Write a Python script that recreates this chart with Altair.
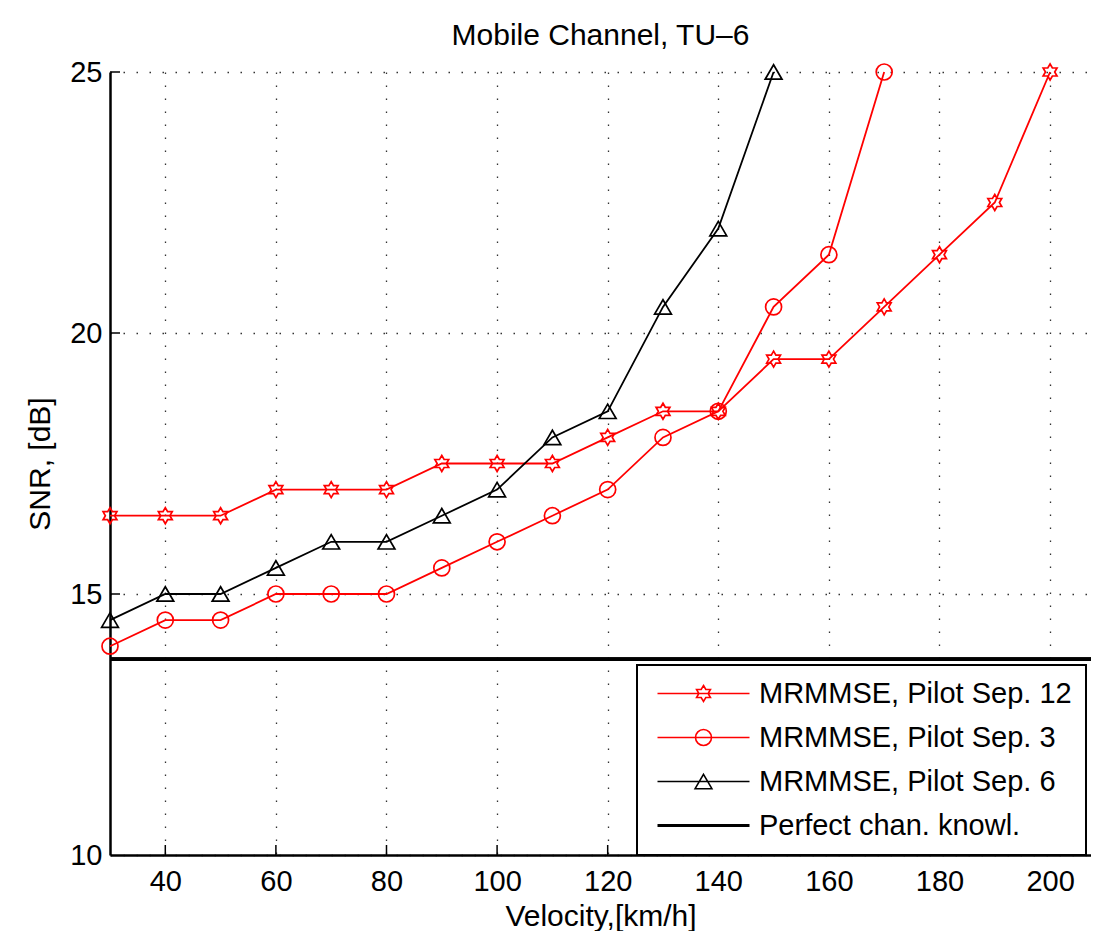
import altair as alt
import pandas as pd

# ---------------- data ----------------
series_names = ["MRMMSE, Pilot Sep. 12", "MRMMSE, Pilot Sep. 3",
                "MRMMSE, Pilot Sep. 6", "Perfect chan. knowl."]
series_colors = ["#ff0000", "#ff0000", "#000000", "#000000"]

velocity_sep12 = [30, 40, 50, 60, 70, 80, 90, 100, 110, 120, 130, 140, 150, 160, 170, 180, 190, 200]
snr_sep12 = [16.5, 16.5, 16.5, 17, 17, 17, 17.5, 17.5, 17.5, 18, 18.5, 18.5, 19.5, 19.5, 20.5, 21.5, 22.5, 25]

velocity_sep3 = [30, 40, 50, 60, 70, 80, 90, 100, 110, 120, 130, 140, 150, 160, 170]
snr_sep3 = [14, 14.5, 14.5, 15, 15, 15, 15.5, 16, 16.5, 17, 18, 18.5, 20.5, 21.5, 25]

velocity_sep6 = [30, 40, 50, 60, 70, 80, 90, 100, 110, 120, 130, 140, 150]
snr_sep6 = [14.5, 15, 15, 15.5, 16, 16, 16.5, 17, 18, 18.5, 20.5, 22, 25]

perfect_snr = 13.75

x_ticks = [40, 60, 80, 100, 120, 140, 160, 180, 200]
y_ticks = [15, 20, 25]

X_MIN, X_MAX = 30, 207.4
Y_MIN, Y_MAX = 10, 25

# ---------------- build tables ----------------
rows = []
for name, xs, ys in [(series_names[0], velocity_sep12, snr_sep12),
                     (series_names[1], velocity_sep3, snr_sep3),
                     (series_names[2], velocity_sep6, snr_sep6)]:
    for v, s in zip(xs, ys):
        rows.append({"series": name, "velocity": v, "snr": s})
df = pd.DataFrame(rows)
legend_df = pd.DataFrame({"series": series_names})
xtick_df = pd.DataFrame({"velocity": x_ticks})
ytick_df = pd.DataFrame({"snr": y_ticks})

# ---------------- marker shapes (unit space) ----------------
HEX = ("M0,-1L0.289,-0.5L0.866,-0.5L0.577,0L0.866,0.5L0.289,0.5L0,1"
       "L-0.289,0.5L-0.866,0.5L-0.577,0L-0.866,-0.5L-0.289,-0.5Z")
CIRC = "M1,0A1,1,0,1,1,-1,0A1,1,0,1,1,1,0Z"
TRI = "M0,-0.9L1.05,0.9L-1.05,0.9Z"
LINE = "M-5.75,0L5.75,0"
THICK = "M-5.75,-0.1L5.75,-0.1M-5.75,0L5.75,0M-5.75,0.1L5.75,0.1"
legend_paths = [LINE + HEX, LINE + CIRC, LINE + TRI, THICK]
marker_paths = [HEX, CIRC, TRI]

FONT = "Liberation Sans"
FS = 29
FS_TITLE = 30

color_scale = alt.Scale(domain=series_names, range=series_colors)
x_scale = alt.Scale(domain=[X_MIN, X_MAX], nice=False, zero=False)
y_scale = alt.Scale(domain=[Y_MIN, Y_MAX], nice=False, zero=False)


def make_legend():
    return alt.Legend(
        title=None,
        orient="none",
        legendX=527,
        legendY=593,
        labelFont=FONT,
        labelFontSize=FS,
        labelColor="#000000",
        labelLimit=600,
        symbolSize=256,
        symbolOffset=38,
        labelOffset=41,
        symbolStrokeWidth=1.6,
        symbolFillColor="transparent",
        symbolOpacity=1,
        padding=14,
        rowPadding=14,
        strokeColor="#000000",
        fillColor="#ffffff",
    )


x_enc = alt.X(
    "velocity:Q",
    scale=x_scale,
    axis=alt.Axis(
        title="Velocity,[km/h]",
        values=x_ticks,
        grid=True,
        ticks=False,
        labelPadding=12,
        titlePadding=5,
    ),
)
y_enc = alt.Y(
    "snr:Q",
    scale=y_scale,
    axis=alt.Axis(
        title="SNR, [dB]",
        values=[10] + y_ticks,
        grid=True,
        ticks=False,
        labelPadding=8,
        titlePadding=14,
    ),
)

# perfect channel knowledge (horizontal thick line)
rule = alt.Chart(legend_df).mark_rule(strokeWidth=3.5, color="#000000").encode(
    y=alt.datum(perfect_snr),
)

lines = alt.Chart(df).mark_line(strokeWidth=1.8).encode(
    x=x_enc,
    y=y_enc,
    color=alt.Color("series:N", scale=color_scale, legend=make_legend()),
    detail="series:N",
)

point_layers = []
for name, path in zip(series_names[:3], marker_paths):
    point_layers.append(
        alt.Chart(df).transform_filter(alt.datum.series == name)
        .mark_point(filled=False, size=256, strokeWidth=1.7, opacity=1, shape=path)
        .encode(
            x=x_enc,
            y=y_enc,
            color=alt.Color("series:N", scale=color_scale, legend=make_legend()),
        )
    )

# legend-only layer (no visible rows)
legend_layer = alt.Chart(legend_df).transform_filter("false").mark_point(filled=False).encode(
    color=alt.Color("series:N", scale=color_scale, legend=make_legend()),
    shape=alt.Shape("series:N",
                    scale=alt.Scale(domain=series_names, range=legend_paths),
                    legend=make_legend()),
)

# inward ticks
tick_len_x = 10 / (783 / (Y_MAX - Y_MIN))
tick_len_y = 10 / (981 / (X_MAX - X_MIN))
xticks_in = alt.Chart(xtick_df).mark_rule(color="#000000", strokeWidth=1.5).encode(
    x=alt.X("velocity:Q", scale=x_scale),
    y=alt.datum(Y_MIN),
    y2=alt.datum(Y_MIN + tick_len_x),
)
yticks_in = alt.Chart(ytick_df).mark_rule(color="#000000", strokeWidth=1.5).encode(
    y=alt.Y("snr:Q", scale=y_scale),
    x=alt.datum(X_MIN),
    x2=alt.datum(X_MIN + tick_len_y),
)

chart = alt.layer(legend_layer, rule, lines, *point_layers, xticks_in, yticks_in).properties(
    width=981,
    height=783,
    title=alt.TitleParams(
        "Mobile Channel, TU\u20136",
        font=FONT,
        fontSize=FS_TITLE,
        fontWeight="normal",
        color="#000000",
        anchor="middle",
        offset=7,
    ),
    autosize=alt.AutoSizeParams(type="none"),
    padding={"left": 102, "top": 64, "right": 0, "bottom": 76},
).configure_view(
    stroke=None
).configure_legend(
    strokeWidth=2
).configure_axis(
    labelFont=FONT,
    labelFontSize=FS,
    labelColor="#000000",
    titleFont=FONT,
    titleFontSize=FS_TITLE,
    titleFontWeight="normal",
    titleColor="#000000",
    domainColor="#000000",
    domainWidth=2.5,
    gridColor="#333333",
    gridWidth=1.3,
    gridDash=[1.5, 11.5],
    gridOpacity=1,
)

chart.save("out.html", embed_options={"renderer": "svg", "actions": False})
